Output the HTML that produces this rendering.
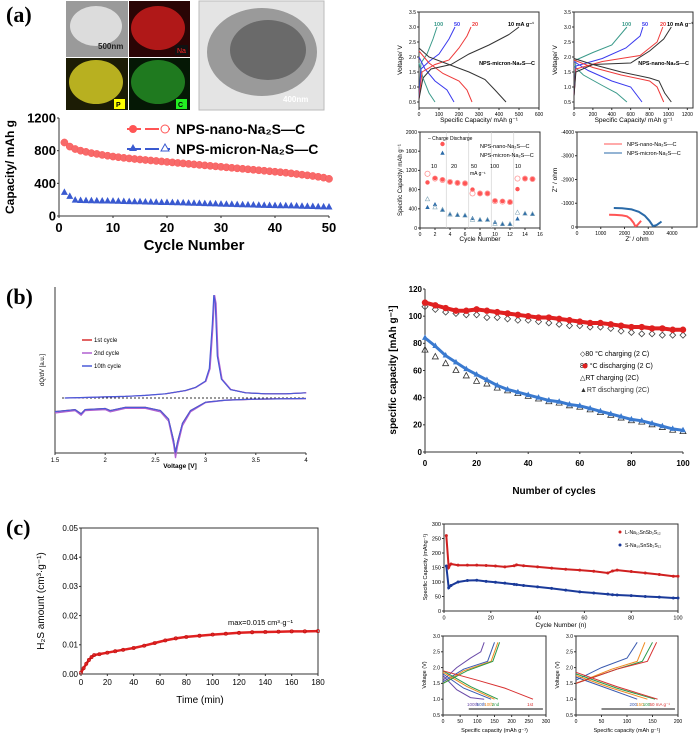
<!DOCTYPE html>
<html><head><meta charset="utf-8"><style>
body{margin:0;background:#fff;}
svg{display:block;font-family:"Liberation Sans",sans-serif;}
</style></head><body>
<svg id="fig" width="700" height="737" viewBox="0 0 700 737" xmlns="http://www.w3.org/2000/svg">
<rect width="700" height="737" fill="#fff"/>
<!-- panel labels -->
<text x="6" y="22" font-family="Liberation Serif,serif" font-weight="bold" font-size="22">(a)</text>
<text x="6" y="304" font-family="Liberation Serif,serif" font-weight="bold" font-size="22">(b)</text>
<text x="6" y="535" font-family="Liberation Serif,serif" font-weight="bold" font-size="22">(c)</text>
<!-- micrographs -->
<g>
<rect x="66" y="1" width="62" height="56" fill="#9a9a9a"/>
<ellipse cx="96" cy="26" rx="26" ry="20" fill="#dcdcdc"/>
<text x="98" y="49" font-size="8" font-weight="bold" fill="#222">500nm</text>
<rect x="129" y="1" width="61" height="56" fill="#2a0505"/>
<ellipse cx="158" cy="28" rx="27" ry="22" fill="#b01818"/>
<rect x="175" y="45" width="13" height="10" fill="#111"/><text x="177" y="53" font-size="7" fill="#f22">Na</text>
<rect x="66" y="58" width="62" height="52" fill="#1c1c05"/>
<ellipse cx="96" cy="82" rx="27" ry="22" fill="#b8b020"/>
<rect x="114" y="99" width="11" height="10" fill="#ff0"/><text x="116" y="107" font-size="7" font-weight="bold">P</text>
<rect x="129" y="58" width="61" height="52" fill="#051805"/>
<ellipse cx="158" cy="82" rx="27" ry="22" fill="#1f7a1f"/>
<rect x="176" y="99" width="11" height="10" fill="#2e2"/><text x="178" y="107" font-size="7" font-weight="bold">C</text>
</g>
<g>
<rect x="199" y="1" width="125" height="109" fill="#e4e4e4" stroke="#bbb"/>
<ellipse cx="262" cy="52" rx="55" ry="44" fill="#9a9a9a"/>
<ellipse cx="268" cy="50" rx="38" ry="30" fill="#6a6a6a"/>
<text x="283" y="102" font-size="8" font-weight="bold" fill="#fff">400nm</text>
</g>
<g id="charts"></g>
</svg>
<script>
// ===== data: panel a cycling =====
const aCycles=[1,2,3,4,5,6,7,8,9,10,11,12,13,14,15,16,17,18,19,20,21,22,23,24,25,26,27,28,29,30,31,32,33,34,35,36,37,38,39,40,41,42,43,44,45,46,47,48,49,50];
const aNano=[900,850,820,800,785,770,760,748,738,728,720,712,705,698,692,686,680,674,668,662,656,650,644,638,632,626,620,614,608,602,596,590,584,578,572,566,560,554,548,542,536,530,522,514,506,498,490,480,470,455];
const aMicron=[290,240,195,190,188,186,185,184,183,182,180,178,176,175,174,172,170,168,166,165,164,162,160,158,156,154,152,150,148,146,144,142,140,138,136,134,132,130,128,127,126,125,124,122,120,118,116,114,112,110];
const aYTicks=[0,400,800,1200];
const aXTicks=[0,10,20,30,40,50];
// voltage profiles (capacity, voltage)
const micronCh={c100:[[0,0.6],[10,1.8],[40,2.1],[70,2.6],[90,3.0]],c50:[[0,0.6],[10,1.6],[50,1.85],[100,2.1],[150,2.6],[180,3.0]],c20:[[0,0.6],[15,1.5],[80,1.75],[150,1.9],[200,2.3],[240,2.7],[260,3.0]],c10:[[0,0.6],[20,1.3],[60,1.6],[160,1.75],[250,2.1],[350,2.4],[450,2.75],[500,3.0]]};
const micronDis={c100:[[0,1.8],[20,1.3],[50,0.8],[80,0.5]],c50:[[0,2.0],[30,1.6],[80,1.2],[140,0.9],[175,0.5]],c20:[[0,2.2],[50,1.8],[120,1.45],[200,1.2],[240,0.9],[265,0.5]],c10:[[0,2.3],[50,2.0],[150,1.75],[250,1.5],[330,1.25],[380,0.9],[435,0.5]]};
const nanoCh={c100:[[0,0.7],[20,1.9],[200,2.15],[400,2.4],[560,3.0]],c50:[[0,0.7],[20,1.7],[300,1.95],[550,2.3],[700,2.7],[730,3.0]],c20:[[0,0.7],[20,1.6],[300,1.85],[700,2.05],[880,2.5],[940,3.0]],c10:[[0,0.7],[20,1.5],[200,1.75],[600,1.8],[800,2.2],[950,2.6],[1030,3.0]]};
const nanoDis={c100:[[0,1.7],[100,1.4],[300,1.05],[450,0.8],[560,0.5]],c50:[[0,1.85],[150,1.55],[400,1.2],[600,1.0],[720,0.5]],c20:[[0,1.9],[200,1.65],[500,1.4],[800,1.2],[880,1.0],[950,0.5]],c10:[[0,1.95],[200,1.75],[500,1.5],[800,1.3],[900,1.2],[960,0.8],[1030,0.5]]};
const rateColors={c100:'#3a9a8a',c50:'#3a3aee',c20:'#ee3a3a',c10:'#333'};
const rateCycles=[1,2,3,4,5,6,7,8,9,10,11,12,13,14,15];
const rateNanoCh=[950,1040,1010,960,940,930,800,720,720,570,560,540,810,1030,1020];
const rateNanoDis=[1130,1030,1000,960,940,930,720,720,720,560,550,540,1030,1030,1020];
const rateMicCh=[430,490,370,290,270,260,200,170,170,120,80,80,190,300,290];
const rateMicDis=[600,430,380,280,270,260,170,170,170,90,80,80,320,300,290];
const nyqNano=[[1350,520],[1600,510],[1900,490],[2100,450],[2250,350],[2380,180],[2450,40],[2520,60],[2620,170],[2700,260]];
const nyqMic=[[1550,800],[1900,790],[2300,740],[2600,640],[2850,480],[3050,260],[3200,40],[3350,80],[3480,170],[3560,230]];
// ===== data: panel b =====
const dqUpV=[1.6,1.8,2.0,2.2,2.4,2.6,2.8,2.9,3.0,3.04,3.07,3.085,3.1,3.12,3.16,3.25,3.4,3.6,3.8,4.0];
const dqUpY=[0,0.5,1,1.5,2.5,4,7,10,16,28,70,98,90,40,18,8,5,4,4,5];
const dqDnV=[1.5,1.7,1.76,1.8,2.0,2.05,2.2,2.4,2.55,2.63,2.68,2.7,2.72,2.77,2.85,3.0,3.2,3.5,4.0];
const dqDnY=[-13,-11,-15,-11,-10,-12,-9,-9,-12,-20,-40,-52,-42,-24,-12,-4,-2,-1,-0.5];
const bCycles=[0,4,8,12,16,20,24,28,32,36,40,44,48,52,56,60,64,68,72,76,80,84,88,92,96,100];
const b80Dis=[110,108,106,104,104,105,104,103,102,101,100,99,99,98,97,96,95,95,94,93,92,92,91,91,90,90];
const b80Ch=[107,105,103,102,101,101,99,99,98,97,97,96,95,94,93,93,92,92,91,89,88,87,87,86,86,86];
const bRTDis=[84,78,71,66,61,57,53,49,46,44,42,40,38,37,35,34,32,30,28,26,24,23,21,19,17,16];
const bRTCh=[75,70,65,60,56,52,50,47,45,43,41,39,37,36,34,33,31,29,27,25,23,22,20,18,16,15];
// ===== data: panel c =====
const cTime=[0,2,4,6,8,10,14,20,26,32,40,48,56,64,72,80,90,100,110,120,130,140,150,160,170,180];
const cH2S=[0.0005,0.002,0.0035,0.0048,0.0058,0.0065,0.0068,0.0073,0.0078,0.0083,0.0089,0.0097,0.0106,0.0115,0.0122,0.0127,0.0131,0.0135,0.0138,0.0141,0.0143,0.0144,0.0145,0.0146,0.0146,0.0147];
const cCyc=[1,2,3,6,10,14,18,22,26,30,31,34,40,46,52,58,64,70,72,74,80,86,92,98,100];
const cL=[260,150,162,158,158,158,157,155,152,156,159,156,152,148,144,141,137,131,138,141,136,131,126,120,120];
const cS=[155,80,88,100,105,106,102,99,96,92,91,88,83,78,72,66,62,58,56,55,53,50,48,45,45];
const cvLeft={n100:[[0,1.75],[40,1.3],[80,1.05],[120,1.0]],n100c:[[0,1.6],[40,2.0],[80,2.3],[110,2.5],[120,2.8]],n50:[[0,1.8],[60,1.35],[140,1.0]],n50c:[[0,1.55],[60,1.95],[130,2.2],[150,2.8]],n10:[[0,1.85],[70,1.4],[150,1.0]],n10c:[[0,1.5],[60,1.9],[140,2.2],[160,2.8]],n2:[[0,1.9],[80,1.4],[160,1.0]],n2c:[[0,1.5],[70,1.9],[145,2.2],[165,2.8]],n1:[[0,1.9],[100,1.6],[180,1.35],[262,1.0]]};
const cvLeftColor={n100:'#6a4aa8',n100c:'#6a4aa8',n50:'#3a5ab0',n50c:'#3a5ab0',n10:'#f08a20',n10c:'#f08a20',n2:'#2a9a4a',n2c:'#2a9a4a',n1:'#d83030'};
const cvRight={r200:[[0,1.7],[60,1.35],[120,1.0]],r200c:[[0,1.6],[50,2.0],[100,2.3],[120,2.8]],r150:[[0,1.75],[70,1.35],[140,1.0]],r150c:[[0,1.5],[70,1.95],[120,2.2],[135,2.8]],r100:[[0,1.8],[80,1.35],[155,1.0]],r100c:[[0,1.5],[80,1.95],[130,2.2],[150,2.8]],r50:[[0,1.85],[80,1.4],[160,1.0]],r50c:[[0,1.5],[80,1.95],[140,2.2],[158,2.8]]};
const cvRightColor={r200:'#3a5ab0',r200c:'#3a5ab0',r150:'#f08a20',r150c:'#f08a20',r100:'#2a9a4a',r100c:'#2a9a4a',r50:'#d83030',r50c:'#d83030'};

const NS='http://www.w3.org/2000/svg';
const root=document.getElementById('charts');
function mk(tag,attrs,parent){const e=document.createElementNS(NS,tag);for(const k in attrs)e.setAttribute(k,attrs[k]);(parent||root).appendChild(e);return e;}
function axis(px0,px1,v0,v1){return v=>px0+(v-v0)/(v1-v0)*(px1-px0);}
function txt(x,y,s,size,opts,name){const e=mk('text',Object.assign({x:x,y:y,'font-size':size},opts||{}));e.textContent=s;


return e;}
function frame(x0,y0,x1,y1,name,box){const e=mk('path',{d:box?`M${x0},${y0}H${x1}V${y1}H${x0}Z`:`M${x0},${y0}V${y1}H${x1}`,fill:'none',stroke:'#333','stroke-width':1});

}
function line(pts,color,name,w){const e=mk('polyline',{points:pts.map(p=>p[0].toFixed(1)+','+p[1].toFixed(1)).join(' '),fill:'none',stroke:color,'stroke-width':w||1});

return e;}
function xticks(X,yb,vals,size,opts,name,fmt,dy){vals.forEach(v=>{mk('line',{x1:X(v),x2:X(v),y1:yb,y2:yb+2,stroke:'#333'});txt(X(v),yb+(dy||size+3),fmt?fmt(v):String(v),size,Object.assign({'text-anchor':'middle'},opts||{}),name);});}
function yticks(Y,xl,vals,size,opts,name,fmt){vals.forEach(v=>{mk('line',{x1:xl-2,x2:xl,y1:Y(v),y2:Y(v),stroke:'#333'});txt(xl-3,Y(v)+size*0.35,fmt?fmt(v):String(v),size,Object.assign({'text-anchor':'end'},opts||{}),name);});}

// ---- Panel a main ----
{const X=axis(59,329,0,50),Y=axis(216,118,0,1200);
frame(59,118,329,216,'capacity-axes');
xticks(X,216,aXTicks,13,{'font-weight':'bold'},'x-tick-label');
yticks(Y,59,aYTicks,13,{'font-weight':'bold'},'y-tick-label');
txt(194,250,'Cycle Number',15,{'text-anchor':'middle','font-weight':'bold'},'x-axis-title');
txt(14,167,'Capacity/ mAh g',12,{'text-anchor':'middle','font-weight':'bold',transform:'rotate(-90 14 167)'},'y-axis-title');
aCycles.forEach((c,i)=>{const m=mk('circle',{cx:X(c),cy:Y(aNano[i]),r:3.6,fill:'#f76a6a',stroke:'#f55','stroke-width':0.5});


const x=X(c),y=Y(aMicron[i]);const t=mk('polygon',{points:`${x},${y-4} ${x-3.5},${y+2.5} ${x+3.5},${y+2.5}`,fill:'#3a5ad0'});

});
mk('line',{x1:127,x2:170,y1:129,y2:129,stroke:'#f55','stroke-width':2,'stroke-dasharray':'14 4'});mk('circle',{cx:133,cy:129,r:4,fill:'#f55'});mk('circle',{cx:165,cy:129,r:4,fill:'#fff',stroke:'#f55'});
txt(176,134,'NPS-nano-Na₂S—C',14,{'font-weight':'bold'},'legend-nano');
mk('line',{x1:127,x2:170,y1:149,y2:149,stroke:'#3a5ad0','stroke-width':2,'stroke-dasharray':'14 4'});mk('polygon',{points:'133,144 129,151 137,151',fill:'#3a5ad0'});mk('polygon',{points:'165,144 161,151 169,151',fill:'#fff',stroke:'#3a5ad0'});
txt(176,154,'NPS-micron-Na₂S—C',14,{'font-weight':'bold'},'legend-micron');}

// ---- Panel a small: voltage profiles ----
function vprofile(x0,x1,xmax,xt,ch,dis,label,name){const X=axis(x0,x1,0,xmax),Y=axis(102,12,0.5,3.5);
frame(x0,12,x1,108,name+'-axes',true);
xticks(X,108,xt,5,{},'x-tick-label');
yticks(Y,x0,[0.5,1.0,1.5,2.0,2.5,3.0,3.5],5,{},'y-tick-label',v=>v.toFixed(1));
txt((x0+x1)/2,122,'Specific Capacity/ mAh g⁻¹',6.5,{'text-anchor':'middle'},'x-axis-title');
txt(x0-17,60,'Voltage/ V',6.5,{'text-anchor':'middle',transform:`rotate(-90 ${x0-17} 60)`},'y-axis-title');
for(const k in ch){line(ch[k].map(p=>[X(p[0]),Y(p[1])]),rateColors[k],name+'-charge-'+k);line(dis[k].map(p=>[X(p[0]),Y(p[1])]),rateColors[k],name+'-discharge-'+k);}
txt(x1-4,65,label,5.5,{'text-anchor':'end','font-weight':'bold'},'curve-label');}
vprofile(419,539,600,[0,100,200,300,400,500,600],micronCh,micronDis,'NPS-micron-Na₂S—C','micron-profile');
vprofile(574,693,1260,[0,200,400,600,800,1000,1200],nanoCh,nanoDis,'NPS-nano-Na₂S—C','nano-profile');
txt(434,26,'100',5.5,{fill:'#3a9a8a','font-weight':'bold'},'rate-label');txt(454,26,'50',5.5,{fill:'#3a3aee','font-weight':'bold'},'rate-label');txt(472,26,'20',5.5,{fill:'#ee3a3a','font-weight':'bold'},'rate-label');txt(508,26,'10 mA g⁻¹',5.5,{'font-weight':'bold'},'rate-label');
txt(622,26,'100',5.5,{fill:'#3a9a8a','font-weight':'bold'},'rate-label');txt(642,26,'50',5.5,{fill:'#3a3aee','font-weight':'bold'},'rate-label');txt(660,26,'20',5.5,{fill:'#ee3a3a','font-weight':'bold'},'rate-label');txt(667,26,'10 mA g⁻¹',5.5,{'font-weight':'bold'},'rate-label');

// rate capability
{const X=axis(420,540,0,16),Y=axis(228,132,0,2000);
frame(420,132,540,228,'rate-axes',true);
xticks(X,228,[0,2,4,6,8,10,12,14,16],5,{},'x-tick-label');
yticks(Y,420,[0,400,800,1200,1600,2000],5,{},'y-tick-label');
txt(480,241,'Cycle Number',6.5,{'text-anchor':'middle'},'x-axis-title');
txt(402,180,'Specific Capacity/ mAh g⁻¹',6,{'text-anchor':'middle',transform:'rotate(-90 402 180)'},'y-axis-title');
[3.5,6.5,9.5,12.5].forEach(c=>mk('line',{x1:X(c),x2:X(c),y1:132,y2:228,stroke:'#ccc','stroke-width':0.6}));
rateCycles.forEach((c,i)=>{let m=mk('circle',{cx:X(c),cy:Y(rateNanoCh[i]),r:2.2,fill:'#f55'});


m=mk('circle',{cx:X(c),cy:Y(rateNanoDis[i]),r:2.6,fill:'none',stroke:'#f88','stroke-width':0.7});


let x=X(c),y=Y(rateMicCh[i]);m=mk('polygon',{points:`${x},${y-2.5} ${x-2.2},${y+1.6} ${x+2.2},${y+1.6}`,fill:'#2a6aa8'});


y=Y(rateMicDis[i]);m=mk('polygon',{points:`${x},${y-2.5} ${x-2.2},${y+1.6} ${x+2.2},${y+1.6}`,fill:'none',stroke:'#8ab','stroke-width':0.6});

});
mk('circle',{cx:X(3),cy:Y(1750),r:2.2,fill:'#f55'});mk('polygon',{points:`${X(3)},${Y(1560)-2.5} ${X(3)-2.2},${Y(1560)+1.6} ${X(3)+2.2},${Y(1560)+1.6}`,fill:'#2a6aa8'});
txt(428,140,'– Charge  Discharge',5,{},'legend-charge');
txt(480,148,'NPS-nano-Na₂S—C',5.5,{},'legend-nano');txt(480,157,'NPS-micron-Na₂S—C',5.5,{},'legend-micron');
txt(431,168,'10',5.5,{},'rate-label');txt(451,168,'20',5.5,{},'rate-label');txt(471,168,'50',5.5,{},'rate-label');txt(470,175,'mA g⁻¹',5,{},'rate-label');txt(490,168,'100',5.5,{},'rate-label');txt(515,168,'10',5.5,{},'rate-label');}

// nyquist
{const X=axis(577,672,0,4000),Y=axis(227,132,0,4000);
frame(577,132,697,227,'nyquist-axes',true);
xticks(X,227,[0,1000,2000,3000,4000],5,{},'x-tick-label');
yticks(Y,577,[0,1000,2000,3000,4000],5,{},'y-tick-label',v=>v?'-'+v:'0');
txt(637,241,"Z' / ohm",6.5,{'text-anchor':'middle'},'x-axis-title');
txt(557,180,"Z'' / ohm",6.5,{'text-anchor':'middle',transform:'rotate(-90 557 180)'},'y-axis-title');
line(nyqNano.map(p=>[X(p[0]),Y(p[1])]),'#f55','nyquist-nano',2);
line(nyqMic.map(p=>[X(p[0]),Y(p[1])]),'#2a6aa8','nyquist-micron',2);
mk('line',{x1:604,x2:622,y1:144,y2:144,stroke:'#f55'});txt(627,146,'NPS-nano-Na₂S—C',5.5,{},'legend-nano');
mk('line',{x1:604,x2:622,y1:153,y2:153,stroke:'#2a6aa8'});txt(627,155,'NPS-micron-Na₂S—C',5.5,{},'legend-micron');}

// ---- Panel b left: dQ/dV ----
{const X=axis(55,306,1.5,4),Y=axis(398,293,0,100);
frame(55,287,306,453,'dqdv-axes');
xticks(X,453,[1.5,2,2.5,3,3.5,4],6,{},'x-tick-label');
txt(180,468,'Voltage [V]',6.5,{'text-anchor':'middle','font-weight':'bold'},'x-axis-title');
txt(44,370,'dQ/dV [a.u.]',6,{'text-anchor':'middle',transform:'rotate(-90 44 370)'},'y-axis-title');
mk('line',{x1:62,x2:306,y1:398,y2:398,stroke:'#333','stroke-dasharray':'2 2'});
const cols=[['#d83030',0],['#b060d0',1.5],['#4a5ad8',-1]];
cols.forEach((c,i)=>{line(dqUpV.map((v,j)=>[X(v)+c[1]*0.3,Y(dqUpY[j]+(i===0&&dqUpV[j]<2.6?-100:0))]).filter(p=>p[1]<420),c[0],'dqdv-charge-'+i,1.2);
line(dqDnV.map((v,j)=>[X(v),Y(dqDnY[j]*(i===1?1.1:1))]),c[0],'dqdv-discharge-'+i,1.2);});
[['1st cycle','#d83030',342],['2nd cycle','#b060d0',355],['10th cycle','#4a5ad8',368]].forEach(l=>{mk('line',{x1:82,x2:92,y1:l[2]-2,y2:l[2]-2,stroke:l[1],'stroke-width':1.5});txt(94,l[2],l[0],6,{},'legend-entry');});}

// ---- Panel b right ----
{const X=axis(425,683,0,100),Y=axis(452,289,0,120);
frame(425,289,683,452,'cycles-axes');
xticks(X,452,[0,20,40,60,80,100],8,{'font-weight':'bold'},'x-tick-label',null,14);
yticks(Y,425,[0,20,40,60,80,100,120],8,{'font-weight':'bold'},'y-tick-label');
txt(554,494,'Number of cycles',10,{'text-anchor':'middle','font-weight':'bold'},'x-axis-title');
txt(396,370,'specific capacity  [mAh g⁻¹]',10,{'text-anchor':'middle','font-weight':'bold',transform:'rotate(-90 396 370)'},'y-axis-title');
bCycles.forEach((c,i)=>{const x=X(c);let y=Y(b80Ch[i]);
let m=mk('polygon',{points:`${x},${y-3} ${x+3},${y} ${x},${y+3} ${x-3},${y}`,fill:'none',stroke:'#444','stroke-width':0.8});


m=mk('circle',{cx:x,cy:Y(b80Dis[i]),r:3.2,fill:'#e02020'});


y=Y(bRTCh[i]);m=mk('polygon',{points:`${x},${y-3.5} ${x-3},${y+2} ${x+3},${y+2}`,fill:'none',stroke:'#333','stroke-width':0.8});


y=Y(bRTDis[i]);m=mk('polygon',{points:`${x},${y-3.5} ${x-3},${y+2} ${x+3},${y+2}`,fill:'#3a7ad0'});

});
line(bCycles.map((c,i)=>[X(c),Y(b80Dis[i])]),'#e02020','80c-discharging-line',4);
line(bCycles.map((c,i)=>[X(c),Y(bRTDis[i])]),'#3a7ad0','rt-discharging-line',3);
txt(580,356,'◇80 °C charging (2 C)',7,{},'legend-entry');
txt(580,368,'80 °C discharging (2 C)',7,{},'legend-entry');mk('circle',{cx:585,cy:366,r:2.5,fill:'#e02020'});
txt(580,380,'△RT charging (2C)',7,{},'legend-entry');
txt(580,392,'▲RT discharging (2C)',7,{fill:'#333'},'legend-entry');}

// ---- Panel c left ----
{const X=axis(81,318,0,180),Y=axis(674,528,0,0.05);
frame(81,528,318,674,'h2s-axes',true);
xticks(X,674,[0,20,40,60,80,100,120,140,160,180],8,{},'x-tick-label',null,11);
yticks(Y,81,[0,0.01,0.02,0.03,0.04,0.05],8,{},'y-tick-label',v=>v.toFixed(2));
txt(200,703,'Time (min)',10,{'text-anchor':'middle'},'x-axis-title');
txt(44,601,'H₂S amount (cm³·g⁻¹)',10,{'text-anchor':'middle',transform:'rotate(-90 44 601)'},'y-axis-title');
line(cTime.map((t,i)=>[X(t),Y(cH2S[i])]),'#e02020','h2s-line',2.5);
cTime.forEach((t,i)=>{const m=mk('circle',{cx:X(t),cy:Y(cH2S[i]),r:1.6,fill:'none',stroke:'#c01010','stroke-width':0.7});

});
txt(228,625,'max=0.015 cm³·g⁻¹',7.5,{},'max-annotation');}

// ---- Panel c right top ----
{const X=axis(444,678,0,100),Y=axis(611,524,0,300);
frame(444,524,678,611,'c-cycle-axes',true);
xticks(X,611,[0,20,40,60,80,100],5.5,{},'x-tick-label');
yticks(Y,444,[0,50,100,150,200,250,300],5.5,{},'y-tick-label');
txt(561,627,'Cycle Number (n)',6.5,{'text-anchor':'middle'},'x-axis-title');
txt(427,567,'Specific Capacity (mAhg⁻¹)',5.5,{'text-anchor':'middle',transform:'rotate(-90 427 567)'},'y-axis-title');
cCyc.forEach((c,i)=>{let m=mk('circle',{cx:X(c),cy:Y(cL[i]),r:1.5,fill:'#d02020'});


m=mk('circle',{cx:X(c),cy:Y(cS[i]),r:1.5,fill:'#1a3a9a'});

});
line(cCyc.map((c,i)=>[X(c),Y(cL[i])]),'#d02020','l-nass-line',2);
line(cCyc.map((c,i)=>[X(c),Y(cS[i])]),'#1a3a9a','s-nass-line',2);
mk('circle',{cx:620,cy:532,r:1.5,fill:'#d02020'});txt(625,534,'L-Na₁₀SnSb₂S₁₂',5,{},'legend-l');
mk('circle',{cx:620,cy:545,r:1.5,fill:'#1a3a9a'});txt(625,547,'S-Na₁₀SnSb₂S₁₂',5,{},'legend-s');}

// ---- Panel c right bottom ----
function cv(x0,x1,xmax,xt,set,colors,name,labels){const X=axis(x0,x1,0,xmax),Y=axis(715,636,0.5,3.0);
frame(x0,636,x1,715,name+'-axes',true);
xticks(X,715,xt,5,{},'x-tick-label');
yticks(Y,x0,[0.5,1.0,1.5,2.0,2.5,3.0],5,{},'y-tick-label',v=>v.toFixed(1));
txt((x0+x1)/2,732,'Specific capacity (mAh g⁻¹)',5.5,{'text-anchor':'middle'},'x-axis-title');
txt(x0-17,675,'Voltage (V)',5.5,{'text-anchor':'middle',transform:`rotate(-90 ${x0-17} 675)`},'y-axis-title');
for(const k in set)line(set[k].map(p=>[X(p[0]),Y(p[1])]),colors[k],name+'-'+k);
mk('line',{x1:X(xmax*0.25),x2:X(xmax*0.97),y1:709,y2:709,stroke:'#111'});
labels.forEach(l=>txt(X(l[0]),706,l[1],4.5,{fill:l[2]},'curve-label'));}
cv(443,546,300,[0,50,100,150,200,250,300],cvLeft,cvLeftColor,'cv-cycles',[[70,'100th','#6a4aa8'],[98,'50th','#3a5ab0'],[120,'10th','#f08a20'],[142,'2nd','#2a9a4a'],[245,'1st','#d83030']]);
cv(576,678,200,[0,50,100,150,200],cvRight,cvRightColor,'cv-rates',[[105,'200','#3a5ab0'],[118,'150','#f08a20'],[131,'100','#2a9a4a'],[144,'50 mA g⁻¹','#d83030']]);
</script>
</body></html>
